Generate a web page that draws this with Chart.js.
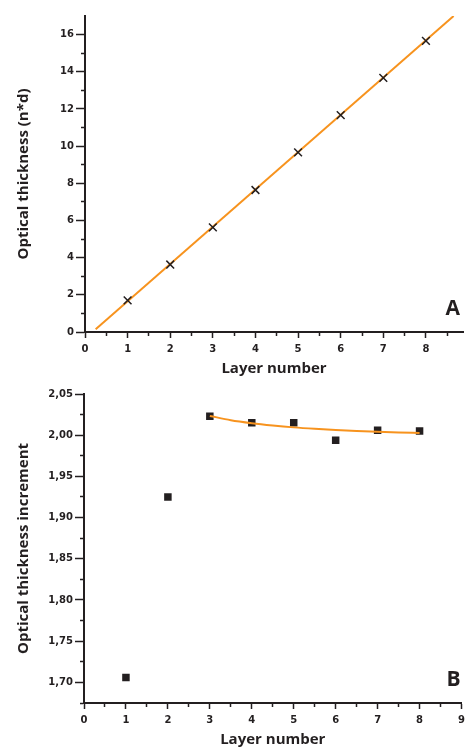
<!DOCTYPE html>
<html>
<head>
<meta charset="utf-8">
<script src="https://cdn.jsdelivr.net/npm/chart.js@4.4.1/dist/chart.umd.min.js"></script>
<style>
  html, body { margin: 0; padding: 0; background: #fff; }
  body { width: 465px; height: 749px; position: relative; overflow: hidden; }
  canvas { position: absolute; left: 0; }
  #chartA { top: 0; }
  #chartB { top: 380px; }
</style>
</head>
<body>
<canvas id="chartA" width="470" height="380"></canvas>
<canvas id="chartB" width="470" height="369"></canvas>
<script>
// panel A: cumulative optical thickness per layer
const layersA = [1, 2, 3, 4, 5, 6, 7, 8];
const thicknessA = [1.70, 3.63, 5.63, 7.64, 9.66, 11.67, 13.67, 15.66];
const fitA_x = [0.25, 8.65];
const fitA_y = [0.15, 17.0];

// panel B: increment per layer
const layersB = [1, 2, 3, 4, 5, 6, 7, 8];
const incrementB = [1.706, 1.925, 2.023, 2.015, 2.015, 1.994, 2.006, 2.005];
const fitB_x = [3, 3.5, 4, 4.5, 5, 5.5, 6, 6.5, 7, 7.5, 8];
const fitB_y = [2.0234, 2.0182, 2.0146, 2.0118, 2.0095, 2.0077, 2.0062, 2.0050, 2.0041, 2.0034, 2.0028];

// ticks (all marks) and the ones that carry a label
const xTicksA = [0, 0.5, 1, 1.5, 2, 2.5, 3, 3.5, 4, 4.5, 5, 5.5, 6, 6.5, 7, 7.5, 8, 8.5];
const xLabelsA = [0, 1, 2, 3, 4, 5, 6, 7, 8];
const yTicksA = [0, 1, 2, 3, 4, 5, 6, 7, 8, 9, 10, 11, 12, 13, 14, 15, 16];
const yLabelsA = [0, 2, 4, 6, 8, 10, 12, 14, 16];

const xTicksB = [0, 0.5, 1, 1.5, 2, 2.5, 3, 3.5, 4, 4.5, 5, 5.5, 6, 6.5, 7, 7.5, 8, 8.5, 9];
const xLabelsB = [0, 1, 2, 3, 4, 5, 6, 7, 8, 9];
const yTicksB = [1.675, 1.70, 1.725, 1.75, 1.775, 1.80, 1.825, 1.85, 1.875, 1.90, 1.925, 1.95, 1.975, 2.00, 2.025, 2.05];
const yLabelsB = [1.70, 1.75, 1.80, 1.85, 1.90, 1.95, 2.00, 2.05];

const ink = '#231f20';
const orange = '#f7931e';
const tickFont = { family: '"DejaVu Sans"', size: 10, weight: 'bold' };
const titleFont = { family: '"Open Sans"', size: 15, weight: 'bold' };

const has = (list, v) => list.some(l => Math.abs(l - v) < 1e-9);

const panelLetter = {
  id: 'panelLetter',
  afterDraw(chart, args, opts) {
    const { ctx, chartArea } = chart;
    ctx.save();
    ctx.font = 'bold 21px "Open Sans"';
    ctx.fillStyle = ink;
    ctx.textAlign = 'right';
    ctx.textBaseline = 'alphabetic';
    ctx.fillText(opts.text, chartArea.right + opts.dx, chartArea.bottom + opts.dy);
    ctx.restore();
  }
};

function makeScales(o) {
  return {
    x: {
      type: 'linear',
      min: o.xMin,
      max: o.xMax,
      afterBuildTicks: s => { s.ticks = o.xTicks.map(v => ({ value: v })); },
      afterFit: s => { s.height = o.xHeight; },
      ticks: {
        autoSkip: false, maxRotation: 0, padding: 5, color: ink, font: tickFont,
        callback: v => has(o.xLabels, v) ? String(v) : ''
      },
      grid: {
        display: true, drawOnChartArea: false, drawTicks: true,
        tickLength: 6, tickWidth: 1.5, tickColor: ink,
        tickBorderDash: c => (c.tick && !has(o.xLabels, c.tick.value)) ? [3, 20] : []
      },
      border: { display: true, color: ink, width: 2 },
      title: { display: true, text: 'Layer number', color: ink, font: titleFont, padding: { top: o.xTitlePad, bottom: o.xTitlePad } }
    },
    y: {
      type: 'linear',
      min: o.yMin,
      max: o.yMax,
      afterBuildTicks: s => { s.ticks = o.yTicks.map(v => ({ value: v })); },
      afterFit: s => { s.width = o.yWidth; },
      ticks: {
        autoSkip: false, padding: 2, color: ink, font: tickFont,
        callback: v => has(o.yLabels, v) ? o.fmt(v) : ''
      },
      grid: {
        display: true, drawOnChartArea: false, drawTicks: true,
        tickLength: 9, tickWidth: 1.5, tickColor: ink,
        tickBorderDash: c => (c.tick && !has(o.yLabels, c.tick.value)) ? [0, 5, 10, 0] : []
      },
      border: { display: true, color: ink, width: 2 },
      title: { display: true, text: o.yTitle, color: ink, font: titleFont, padding: { top: 15, bottom: 15 } }
    }
  };
}

Chart.defaults.font.family = '"DejaVu Sans"';

new Chart(document.getElementById('chartA'), {
  type: 'scatter',
  data: {
    datasets: [
      {
        // crosses sit on top of the fitted line
        data: layersA.map((x, i) => ({ x: x, y: thicknessA[i] })),
        showLine: false, pointStyle: 'crossRot', pointRadius: 5.5,
        borderColor: ink, borderWidth: 1.5
      },
      {
        data: fitA_x.map((x, i) => ({ x: x, y: fitA_y[i] })),
        showLine: true, borderColor: orange, borderWidth: 2, pointRadius: 0
      }
    ]
  },
  options: {
    responsive: false,
    animation: false,
    layout: { padding: { top: 16, right: 5, bottom: 0, left: 0 } },
    plugins: {
      legend: { display: false },
      tooltip: { enabled: false },
      panelLetter: { text: 'A', dx: -3, dy: -17 }
    },
    scales: makeScales({
      xMin: 0, xMax: 8.87, xTicks: xTicksA, xLabels: xLabelsA, xHeight: 48, xTitlePad: 2,
      yMin: 0, yMax: 17, yTicks: yTicksA, yLabels: yLabelsA, yWidth: 85,
      yTitle: 'Optical thickness (n*d)', fmt: v => String(v)
    })
  },
  plugins: [panelLetter]
});

new Chart(document.getElementById('chartB'), {
  type: 'scatter',
  data: {
    datasets: [
      {
        data: fitB_x.map((x, i) => ({ x: x, y: fitB_y[i] })),
        showLine: true, borderColor: orange, borderWidth: 2, pointRadius: 0,
        cubicInterpolationMode: 'monotone'
      },
      {
        data: layersB.map((x, i) => ({ x: x, y: incrementB[i] })),
        showLine: false, pointStyle: 'rect', pointRadius: 5.3,
        backgroundColor: ink, borderColor: ink, borderWidth: 0
      }
    ]
  },
  options: {
    responsive: false,
    animation: false,
    layout: { padding: { top: 14, right: 6.7, bottom: 0, left: 0 } },
    plugins: {
      legend: { display: false },
      tooltip: { enabled: false },
      panelLetter: { text: 'B', dx: -1, dy: -17 }
    },
    scales: makeScales({
      xMin: 0, xMax: 9, xTicks: xTicksB, xLabels: xLabelsB, xHeight: 46, xTitlePad: 0,
      yMin: 1.675, yMax: 2.05, yTicks: yTicksB, yLabels: yLabelsB, yWidth: 84,
      yTitle: 'Optical thickness increment', fmt: v => v.toFixed(2).replace('.', ',')
    })
  },
  plugins: [panelLetter]
});
</script>
</body>
</html>
